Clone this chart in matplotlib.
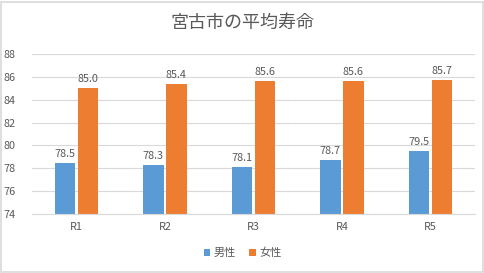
import matplotlib
matplotlib.use("Agg")
import matplotlib.pyplot as plt
import numpy as np
from matplotlib.patches import Rectangle

plt.rcParams['font.family'] = ['Noto Sans CJK JP', 'DejaVu Sans']

categories = ["R1", "R2", "R3", "R4", "R5"]
male = [78.5, 78.3, 78.1, 78.7, 79.5]
female = [85.0, 85.4, 85.6, 85.6, 85.7]
series_names = ["男性", "女性"]
yticks = [74, 76, 78, 80, 82, 84, 86, 88]

blue = "#5B9BD5"
orange = "#ED7D31"
txt = "#595959"

fig = plt.figure(figsize=(4.85, 2.73), dpi=100)
fig.patches.append(Rectangle((0.002, 0.004), 0.994, 0.99, transform=fig.transFigure,
                             fill=False, edgecolor="#D9D9D9", linewidth=1.2))
ax = fig.add_axes([0.066, 0.216, 0.913, 0.586])

x = np.arange(len(categories))
w = 0.23
gap = 0.03
b1 = ax.bar(x - (w + gap) / 2, np.array(male) - 74, w, bottom=74, color=blue, label=series_names[0])
b2 = ax.bar(x + (w + gap) / 2, np.array(female) - 74, w, bottom=74, color=orange, label=series_names[1])

for xi, v in zip(x, male):
    ax.text(xi - (w + gap) / 2, v + 0.35, f"{v:.1f}", ha="center", va="bottom", fontsize=7.8, color=txt)
for xi, v in zip(x, female):
    ax.text(xi + (w + gap) / 2, v + 0.35, f"{v:.1f}", ha="center", va="bottom", fontsize=7.8, color=txt)

ax.set_ylim(74, 88)
ax.set_xlim(-0.5, len(categories) - 0.5)
ax.set_yticks(yticks)
ax.set_xticks(x)
ax.set_xticklabels(categories)
ax.tick_params(axis="both", length=0, labelsize=7.8, colors=txt)
ax.tick_params(axis="y", pad=12)
ax.tick_params(axis="x", pad=6)
ax.grid(axis="y", color="#D9D9D9", linewidth=0.8)
ax.set_axisbelow(True)
for s in ["top", "right", "left"]:
    ax.spines[s].set_visible(False)
ax.spines["bottom"].set_color("#D9D9D9")

fig.text(0.5, 0.915, "宮古市の平均寿命", ha="center", va="center", fontsize=13, color=txt)

fig.legend(handles=[b1, b2], labels=series_names, loc="center", bbox_to_anchor=(0.5, 0.073),
           ncol=2, frameon=False, fontsize=8, handlelength=0.6, handleheight=0.6,
           handletextpad=0.3, columnspacing=1.2, labelcolor=txt)

fig.savefig("out.png", dpi=100)
